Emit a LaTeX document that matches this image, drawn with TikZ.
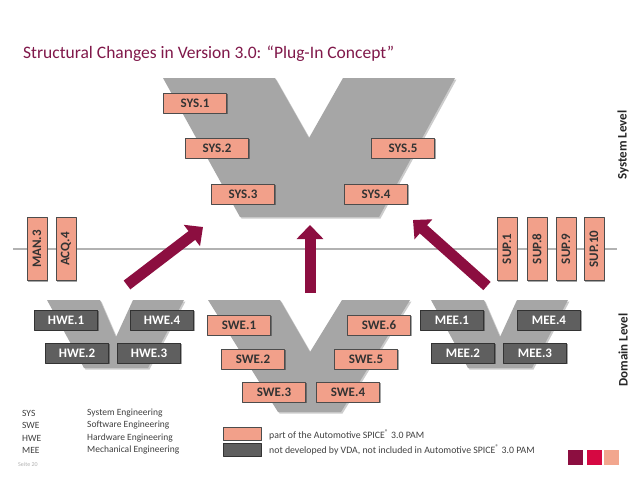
\documentclass[tikz,border=0pt]{standalone}
\usepackage{fontspec}
\setmainfont{Carlito}
\usetikzlibrary{arrows.meta,shadows}
\definecolor{vgray}{RGB}{166,166,166}
\definecolor{salmon}{RGB}{242,160,138}
\definecolor{darkbox}{RGB}{95,95,95}
\definecolor{wine}{RGB}{140,14,64}
\definecolor{titlered}{RGB}{128,24,74}
\definecolor{crimson}{RGB}{214,8,66}
\definecolor{lightsalmon}{RGB}{242,166,142}

\begin{document}
\begin{tikzpicture}[x=1pt,y=-1pt,line join=round,
  spice/.style={draw=black!70,fill=salmon,text=black!80,font=\bfseries\fontsize{13}{15}\selectfont,
    minimum width=63pt,minimum height=20pt,inner sep=0pt,
    drop shadow={shadow xshift=1.2pt,shadow yshift=-1.2pt,fill=black,opacity=.35}},
  other/.style={spice,fill=darkbox,draw=black!80,text=white},
  upright/.style={spice,rotate=90},
  vshape/.style={fill=vgray,drop shadow={shadow xshift=1.5pt,shadow yshift=-1.5pt,fill=black,opacity=.2}},
  plug/.style={wine,line width=11pt,-{Triangle[length=14pt,width=26pt]}},
  key/.style={anchor=west,inner sep=0pt,text=black!75,font=\fontsize{9.5}{11}\selectfont},
  level/.style={rotate=90,inner sep=0pt,text=black!85,font=\bfseries\fontsize{13}{15}\selectfont}]
  % page
  \fill[white] (0,0) rectangle (638,479);
  \useasboundingbox (0,0) rectangle (638,479);

  % title
  \node[anchor=base west,inner sep=0pt,text=titlered,font=\fontsize{17.5}{20}\selectfont] (title) at (23,58)
    {Structural Changes in Version 3.0: “Plug-In Concept”};

  % V shapes
  \fill[vshape] (163,78) -- (275,78) -- (309,138) -- (343,78) -- (455,78) -- (379,217) -- (240,217) -- cycle;
  \fill[vshape] (47,300) -- (100,300) -- (116,337) -- (133,300) -- (184,300) -- (148,368) -- (84,368) -- cycle;
  \fill[vshape] (208,300) -- (280,300) -- (310,352) -- (342,300) -- (410,300) -- (341,412) -- (278,412) -- cycle;
  \fill[vshape] (431,300) -- (484,300) -- (500,337) -- (517,300) -- (568,300) -- (532,368) -- (468,368) -- cycle;

  % level line
  \draw[black!30,line width=1.5pt] (13,249) -- (617,249);

  % system level
  \node[spice] (sys1) at (195,103) {SYS.1};
  \node[spice] (sys2) at (217,148) {SYS.2};
  \node[spice] (sys3) at (243,194) {SYS.3};
  \node[spice] (sys4) at (376,194) {SYS.4};
  \node[spice] (sys5) at (403,148) {SYS.5};

  % plug-in processes
  \node[upright] (man3) at (37,249) {MAN.3};
  \node[upright] (acq4) at (66,249) {ACQ.4};
  \node[upright] (sup1) at (507,249) {SUP.1};
  \node[upright] (sup8) at (537,249) {SUP.8};
  \node[upright] (sup9) at (566,249) {SUP.9};
  \node[upright] (sup10) at (594,249) {SUP.10};

  % domain level
  \node[other] (hwe1) at (66,320) {HWE.1};
  \node[other] (hwe4) at (162,320) {HWE.4};
  \node[other] (hwe2) at (77,353) {HWE.2};
  \node[other] (hwe3) at (149,353) {HWE.3};

  \node[spice] (swe1) at (239,325) {SWE.1};
  \node[spice] (swe6) at (379,325) {SWE.6};
  \node[spice] (swe2) at (253,359) {SWE.2};
  \node[spice] (swe5) at (366,359) {SWE.5};
  \node[spice] (swe3) at (274,392) {SWE.3};
  \node[spice] (swe4) at (348,392) {SWE.4};

  \node[other] (mee1) at (452,320) {MEE.1};
  \node[other] (mee4) at (549,320) {MEE.4};
  \node[other] (mee2) at (463,353) {MEE.2};
  \node[other] (mee3) at (535,353) {MEE.3};

  % arrows
  \coordinate (hweout) at (127,285);
  \coordinate (hwein) at (203,227);
  \coordinate (sweout) at (310,293);
  \coordinate (swein) at (310,225);
  \coordinate (meeout) at (487,286);
  \coordinate (meein) at (413,220);
  \draw[plug] (hweout) -- (hwein);
  \draw[plug] (sweout) -- (swein);
  \draw[plug] (meeout) -- (meein);

  % levels
  \node[level] (syslevel) at (623,145) {System Level};
  \node[level] (domlevel) at (623,350) {Domain Level};

  % abbreviations
  \node[key] (ksys) at (22,413) {SYS};
  \node[key] (kswe) at (22,425.5) {SWE};
  \node[key] (khwe) at (22,438) {HWE};
  \node[key] (kmee) at (22,450.5) {MEE};
  \node[key] (tsys) at (87,413) {System Engineering};
  \node[key] (tswe) at (87,425.5) {Software Engineering};
  \node[key] (thwe) at (87,438) {Hardware Engineering};
  \node[key] (tmee) at (87,450.5) {Mechanical Engineering};
  \node[anchor=west,inner sep=0pt,text=black!30,font=\fontsize{6}{7}\selectfont] (page) at (18,464) {Seite 20};

  % legend
  \node[spice,minimum width=38pt,minimum height=13pt] (inpam) at (242,433.5) {};
  \node[other,minimum width=38pt,minimum height=13pt] (notpam) at (242,449.5) {};
  \node[key,font=\fontsize{9.8}{12}\selectfont] (tinpam) at (269,435)
    {part of the Automotive SPICE\textsuperscript{\textregistered} 3.0 PAM};
  \node[key,font=\fontsize{9.8}{12}\selectfont] (tnotpam) at (269,450)
    {not developed by VDA, not included in Automotive SPICE\textsuperscript{\textregistered} 3.0 PAM};

  % corner squares
  \fill[wine] (568,450) rectangle (583,465);
  \fill[crimson] (587,450) rectangle (602,465);
  \fill[lightsalmon] (604,450) rectangle (619,465);
\end{tikzpicture}
\end{document}
